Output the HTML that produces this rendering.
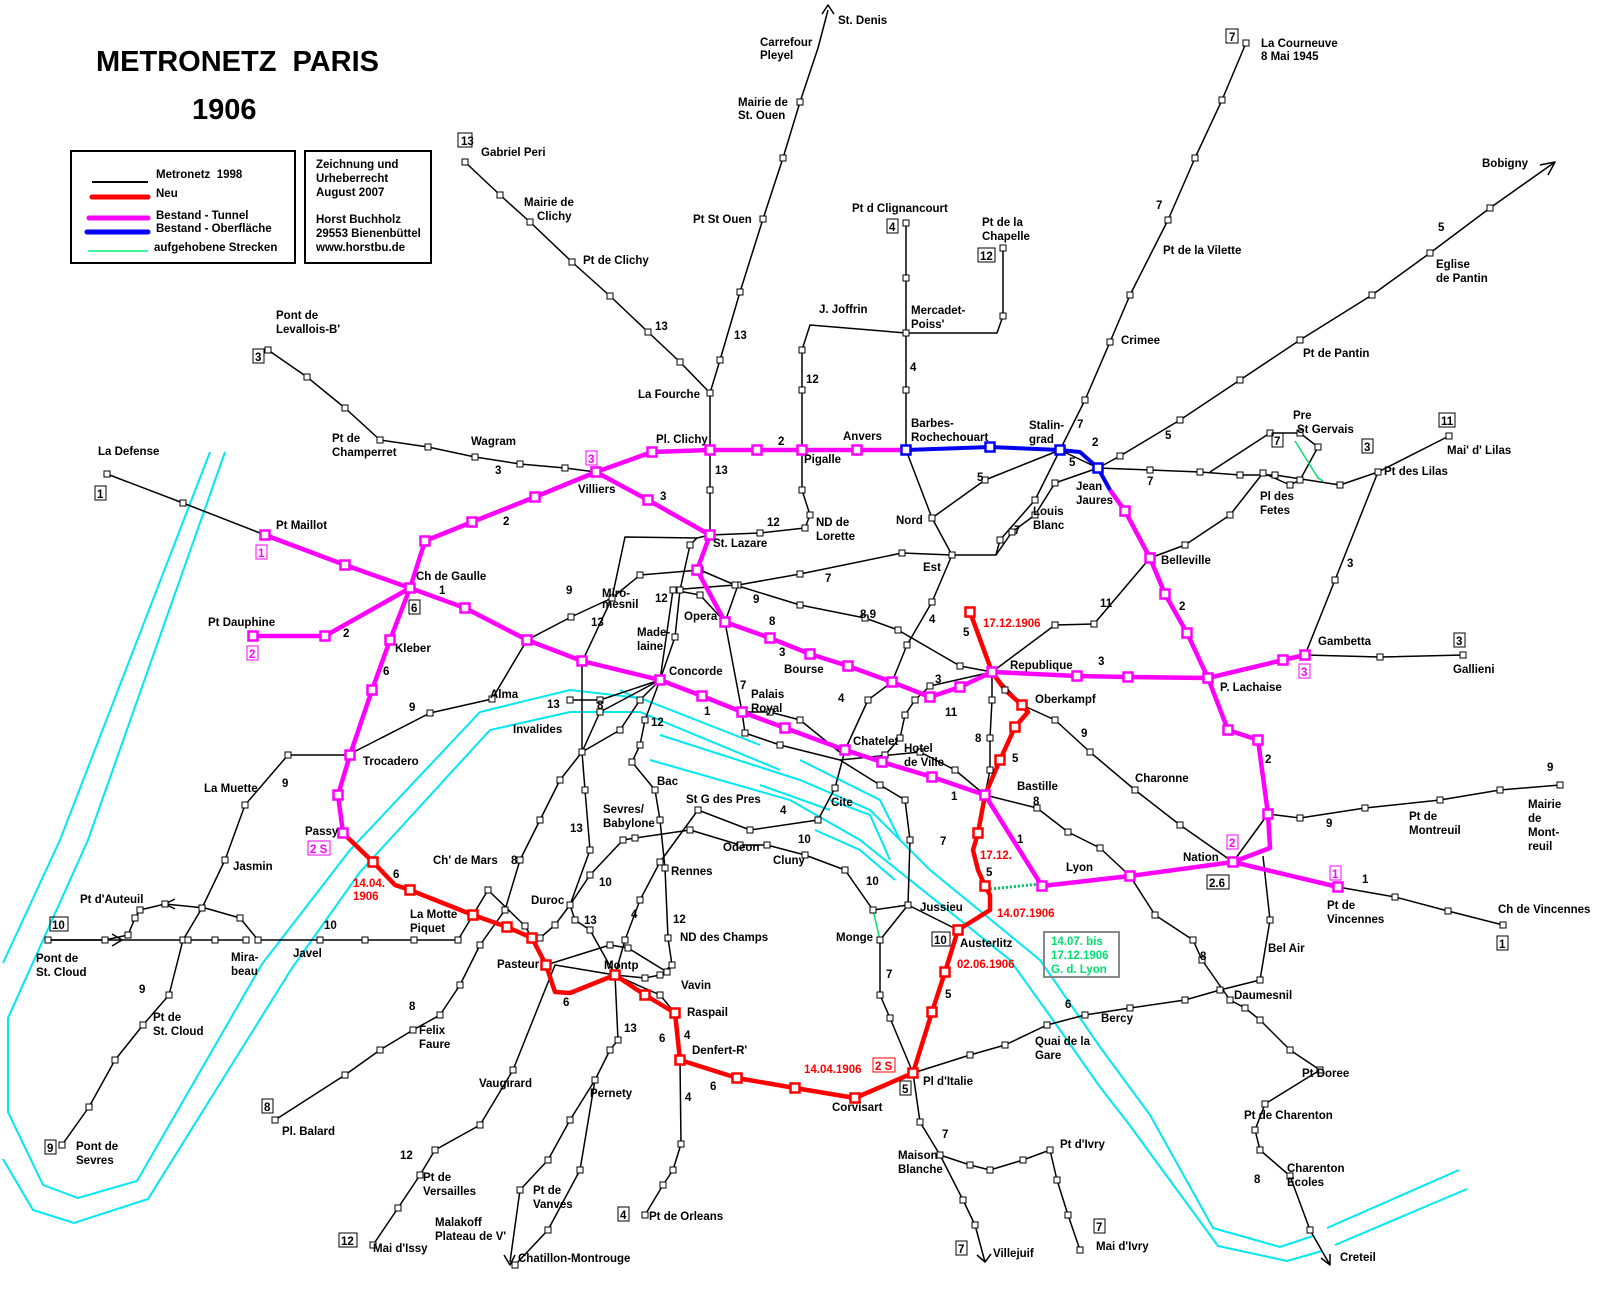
<!DOCTYPE html>
<html><head><meta charset="utf-8"><style>
html,body{margin:0;padding:0;background:#fff;width:1600px;height:1300px;overflow:hidden}
svg{display:block}
text{font-family:"Liberation Sans",sans-serif;font-size:11.5px;font-weight:bold;fill:#000}
.r{fill:#f00}.m{fill:#f0f}.g{fill:#00e070}
.t{font-size:29px;font-weight:bold}
</style></head><body>
<svg id="s" width="1600" height="1300" viewBox="0 0 1600 1300" xmlns="http://www.w3.org/2000/svg">
<g id="river" fill="none" stroke="#00e8f0" stroke-width="2">
<polyline points="210,452 60,840 3,963"/>
<polyline points="225,452 88,840 8,1018 8,1112 43,1185 78,1198 137,1181 262,964 350,850 480,712 570,690 640,698 760,745"/>
<polyline points="3,1159 33,1210 74,1223 148,1199 292,968 360,872 490,730 570,712 640,712 780,770"/>
<polyline points="660,735 800,780 870,810 930,870 1040,960 1100,1047 1150,1115 1213,1228 1280,1247 1313,1236"/>
<polyline points="650,760 790,800 860,840 1010,960 1060,1030 1100,1087 1128,1123 1218,1246 1287,1261 1322,1251"/>
<polyline points="1327,1228 1459,1170"/>
<polyline points="1335,1245 1467,1189"/>
<polyline points="800,760 840,780 880,800 900,840"/>
<polyline points="830,800 870,815 890,860"/>
<polyline points="815,830 860,850 895,880"/>
<polyline points="760,785 830,810"/>
<polyline points="620,690 640,700"/>
</g>
<g id="lines"></g>
<g id="sq"></g>

<text x="96" y="71" class="t">METRONETZ&#160;&#160;PARIS</text>
<text x="192" y="119" class="t">1906</text>
<rect x="71" y="151" width="224" height="112" fill="none" stroke="#000" stroke-width="2"/>
<rect x="305" y="151" width="126" height="112" fill="none" stroke="#000" stroke-width="2"/>
<line x1="92" y1="182" x2="148" y2="182" stroke="#000" stroke-width="2"/>
<line x1="92" y1="197" x2="148" y2="197" stroke="#f00" stroke-width="5" stroke-linecap="round"/>
<line x1="89" y1="218" x2="148" y2="218" stroke="#f0f" stroke-width="5" stroke-linecap="round"/>
<line x1="87" y1="232" x2="148" y2="232" stroke="#00f" stroke-width="5" stroke-linecap="round"/>
<line x1="88" y1="251" x2="148" y2="251" stroke="#00f080" stroke-width="1.5"/>
<text x="156" y="178">Metronetz&#160;&#160;1998</text>
<text x="156" y="197">Neu</text>
<text x="156" y="219">Bestand - Tunnel</text>
<text x="156" y="232">Bestand - Oberfläche</text>
<text x="154" y="251">aufgehobene Strecken</text>
<text x="316" y="168">Zeichnung und</text>
<text x="316" y="182">Urheberrecht</text>
<text x="316" y="196">August 2007</text>
<text x="316" y="223">Horst Buchholz</text>
<text x="316" y="237">29553 Bienenbüttel</text>
<text x="316" y="251">www.horstbu.de</text>

<rect x="1044" y="932" width="75" height="45" fill="none" stroke="#888" stroke-width="2"/>
<text x="1051" y="945" class="g">14.07. bis</text>
<text x="1051" y="959" class="g">17.12.1906</text>
<text x="1051" y="973" class="g">G. d. Lyon</text>

<g fill="none" stroke="#000" stroke-width="1">
<rect x="458" y="133" width="14" height="14"/><rect x="1226" y="29" width="12" height="14"/>
<rect x="253" y="349" width="11" height="14"/><rect x="95" y="486" width="11" height="14"/>
<rect x="887" y="219" width="11" height="14"/><rect x="978" y="248" width="17" height="14"/>
<rect x="1272" y="433" width="11" height="14"/><rect x="1362" y="439" width="11" height="14"/>
<rect x="1439" y="413" width="16" height="14"/><rect x="409" y="600" width="11" height="14"/>
<rect x="1454" y="633" width="11" height="14"/><rect x="1207" y="875" width="22" height="14"/>
<rect x="1497" y="936" width="11" height="14"/><rect x="50" y="917" width="18" height="14"/>
<rect x="932" y="932" width="18" height="14"/><rect x="262" y="1099" width="11" height="14"/>
<rect x="45" y="1140" width="11" height="14"/><rect x="900" y="1081" width="11" height="14"/>
<rect x="618" y="1207" width="11" height="14"/><rect x="339" y="1233" width="18" height="14"/>
<rect x="956" y="1241" width="11" height="14"/><rect x="1094" y="1219" width="11" height="14"/>
</g>
<g fill="none" stroke="#f0f" stroke-width="1">
<rect x="586" y="451" width="11" height="14"/><rect x="256" y="545" width="11" height="14"/>
<rect x="247" y="646" width="11" height="14"/><rect x="1299" y="664" width="11" height="14"/>
<rect x="308" y="841" width="22" height="14"/><rect x="1227" y="835" width="11" height="14"/>
<rect x="1330" y="866" width="11" height="14"/>
</g>
<rect x="873" y="1058" width="22" height="14" fill="none" stroke="#f00"/>
<g>
<text x="461" y="145">13</text><text x="1229" y="41">7</text><text x="255" y="361">3</text><text x="97" y="498">1</text>
<text x="889" y="231">4</text><text x="980" y="260">12</text><text x="1274" y="445">7</text><text x="1364" y="451">3</text>
<text x="1441" y="425">11</text><text x="411" y="612">6</text><text x="1456" y="645">3</text><text x="1209" y="887">2.6</text>
<text x="1499" y="948">1</text><text x="52" y="929">10</text><text x="934" y="944">10</text><text x="264" y="1111">8</text>
<text x="47" y="1152">9</text><text x="902" y="1093">5</text><text x="620" y="1219">4</text><text x="341" y="1245">12</text>
<text x="958" y="1253">7</text><text x="1096" y="1231">7</text>
<text x="588" y="463" class="m">3</text><text x="258" y="557" class="m">1</text><text x="249" y="658" class="m">2</text>
<text x="1301" y="676" class="m">3</text><text x="310" y="853" class="m">2 S</text><text x="1229" y="847" class="m">2</text>
<text x="1332" y="878" class="m">1</text><text x="875" y="1070" class="r">2 S</text>
</g>

<text x="983" y="627" class="r">17.12.1906</text>
<text x="980" y="859" class="r">17.12.</text>
<text x="997" y="917" class="r">14.07.1906</text>
<text x="957" y="968" class="r">02.06.1906</text>
<text x="353" y="887" class="r">14.04.</text>
<text x="353" y="900" class="r">1906</text>
<text x="804" y="1073" class="r">14.04.1906</text>

<g>
<text x="838" y="24">St. Denis</text>
<text x="760" y="46">Carrefour</text><text x="760" y="59">Pleyel</text>
<text x="738" y="106">Mairie de</text><text x="738" y="119">St. Ouen</text>
<text x="1261" y="47">La Courneuve</text><text x="1261" y="60">8 Mai 1945</text>
<text x="1482" y="167">Bobigny</text>
<text x="481" y="156">Gabriel Peri</text>
<text x="524" y="206">Mairie de</text><text x="537" y="220">Clichy</text>
<text x="693" y="223">Pt St Ouen</text>
<text x="852" y="212">Pt d Clignancourt</text>
<text x="982" y="226">Pt de la</text><text x="982" y="240">Chapelle</text>
<text x="1436" y="268">Eglise</text><text x="1436" y="282">de Pantin</text>
<text x="1163" y="254">Pt de la Vilette</text>
<text x="583" y="264">Pt de Clichy</text>
<text x="276" y="319">Pont de</text><text x="276" y="333">Levallois-B'</text>
<text x="819" y="313">J. Joffrin</text>
<text x="911" y="314">Mercadet-</text><text x="911" y="328">Poiss'</text>
<text x="1303" y="357">Pt de Pantin</text>
<text x="1121" y="344">Crimee</text>
<text x="638" y="398">La Fourche</text>
<text x="1293" y="419">Pre</text><text x="1297" y="433">St Gervais</text>
<text x="1447" y="454">Mai' d' Lilas</text>
<text x="332" y="442">Pt de</text><text x="332" y="456">Champerret</text>
<text x="471" y="445">Wagram</text>
<text x="98" y="455">La Defense</text>
<text x="656" y="443">Pl. Clichy</text>
<text x="843" y="440">Anvers</text>
<text x="911" y="427">Barbes-</text><text x="911" y="441">Rochechouart</text>
<text x="1029" y="429">Stalin-</text><text x="1029" y="443">grad</text>
<text x="804" y="463">Pigalle</text>
<text x="578" y="493">Villiers</text>
<text x="1076" y="490">Jean</text><text x="1076" y="504">Jaures</text>
<text x="1033" y="515">Louis</text><text x="1033" y="529">Blanc</text>
<text x="1260" y="500">Pl des</text><text x="1260" y="514">Fetes</text>
<text x="1384" y="475">Pt des Lilas</text>
<text x="276" y="529">Pt Maillot</text>
<text x="816" y="526">ND de</text><text x="816" y="540">Lorette</text>
<text x="896" y="524">Nord</text>
<text x="713" y="547">St. Lazare</text>
<text x="923" y="571">Est</text>
<text x="1161" y="564">Belleville</text>
<text x="416" y="580">Ch de Gaulle</text>
<text x="602" y="597">Miro-</text><text x="602" y="608">mesnil</text>
<text x="208" y="626">Pt Dauphine</text>
<text x="684" y="620">Opera</text>
<text x="637" y="636">Made-</text><text x="637" y="650">laine</text>
<text x="1318" y="645">Gambetta</text>
<text x="395" y="652">Kleber</text>
<text x="1010" y="669">Republique</text>
<text x="669" y="675">Concorde</text>
<text x="784" y="673">Bourse</text>
<text x="1453" y="673">Gallieni</text>
<text x="1220" y="691">P. Lachaise</text>
<text x="490" y="698">Alma</text>
<text x="751" y="698">Palais</text><text x="751" y="712">Royal</text>
<text x="1035" y="703">Oberkampf</text>
<text x="513" y="733">Invalides</text>
<text x="853" y="745">Chatelet</text>
<text x="904" y="752">Hotel</text><text x="904" y="766">de Ville</text>
<text x="363" y="765">Trocadero</text>
<text x="1135" y="782">Charonne</text>
<text x="657" y="785">Bac</text>
<text x="204" y="792">La Muette</text>
<text x="1017" y="790">Bastille</text>
<text x="686" y="803">St G des Pres</text>
<text x="831" y="806">Cite</text>
<text x="1528" y="808">Mairie</text><text x="1528" y="822">de</text><text x="1528" y="836">Mont-</text><text x="1528" y="850">reuil</text>
<text x="1409" y="820">Pt de</text><text x="1409" y="834">Montreuil</text>
<text x="603" y="813">Sevres/</text><text x="603" y="827">Babylone</text>
<text x="305" y="835">Passy</text>
<text x="723" y="851">Odeon</text>
<text x="773" y="864">Cluny</text>
<text x="433" y="864">Ch' de Mars</text>
<text x="1183" y="861">Nation</text>
<text x="1066" y="871">Lyon</text>
<text x="233" y="870">Jasmin</text>
<text x="671" y="875">Rennes</text>
<text x="80" y="903">Pt d'Auteuil</text>
<text x="531" y="904">Duroc</text>
<text x="1327" y="909">Pt de</text><text x="1327" y="923">Vincennes</text>
<text x="1498" y="913">Ch de Vincennes</text>
<text x="920" y="911">Jussieu</text>
<text x="410" y="918">La Motte</text><text x="410" y="932">Piquet</text>
<text x="680" y="941">ND des Champs</text>
<text x="836" y="941">Monge</text>
<text x="960" y="947">Austerlitz</text>
<text x="1268" y="952">Bel Air</text>
<text x="36" y="962">Pont de</text><text x="36" y="976">St. Cloud</text>
<text x="231" y="961">Mira-</text><text x="231" y="975">beau</text>
<text x="293" y="957">Javel</text>
<text x="497" y="968">Pasteur</text>
<text x="604" y="969">Montp</text>
<text x="681" y="989">Vavin</text>
<text x="1234" y="999">Daumesnil</text>
<text x="1101" y="1022">Bercy</text>
<text x="153" y="1021">Pt de</text><text x="153" y="1035">St. Cloud</text>
<text x="687" y="1016">Raspail</text>
<text x="419" y="1034">Felix</text><text x="419" y="1048">Faure</text>
<text x="1035" y="1045">Quai de la</text><text x="1035" y="1059">Gare</text>
<text x="692" y="1054">Denfert-R'</text>
<text x="1302" y="1077">Pt Doree</text>
<text x="923" y="1085">Pl d'Italie</text>
<text x="479" y="1087">Vaugirard</text>
<text x="590" y="1097">Pernety</text>
<text x="832" y="1111">Corvisart</text>
<text x="1244" y="1119">Pt de Charenton</text>
<text x="282" y="1135">Pl. Balard</text>
<text x="1060" y="1148">Pt d'Ivry</text>
<text x="76" y="1150">Pont de</text><text x="76" y="1164">Sevres</text>
<text x="898" y="1159">Maison</text><text x="898" y="1173">Blanche</text>
<text x="1287" y="1172">Charenton</text><text x="1287" y="1186">Ecoles</text>
<text x="423" y="1181">Pt de</text><text x="423" y="1195">Versailles</text>
<text x="533" y="1194">Pt de</text><text x="533" y="1208">Vanves</text>
<text x="435" y="1226">Malakoff</text><text x="435" y="1240">Plateau de V'</text>
<text x="649" y="1220">Pt de Orleans</text>
<text x="1096" y="1250">Mai d'Ivry</text>
<text x="373" y="1252">Mai d'Issy</text>
<text x="993" y="1257">Villejuif</text>
<text x="518" y="1262">Chatillon-Montrouge</text>
<text x="1340" y="1261">Creteil</text>
</g>
<g>
<text x="734" y="339">13</text><text x="655" y="330">13</text><text x="806" y="383">12</text><text x="910" y="371">4</text>
<text x="1156" y="209">7</text><text x="1438" y="231">5</text><text x="1165" y="439">5</text><text x="1077" y="428">7</text>
<text x="1092" y="446">2</text><text x="977" y="481">5</text><text x="1069" y="466">5</text><text x="1147" y="485">7</text>
<text x="1014" y="534">7</text><text x="1347" y="567">3</text><text x="1179" y="610">2</text><text x="1100" y="607">11</text>
<text x="495" y="474">3</text><text x="778" y="445">2</text><text x="715" y="474">13</text><text x="660" y="500">3</text>
<text x="503" y="525">2</text><text x="767" y="526">12</text><text x="439" y="594">1</text><text x="343" y="637">2</text>
<text x="566" y="594">9</text><text x="655" y="602">12</text><text x="825" y="582">7</text><text x="753" y="603">9</text>
<text x="860" y="618">8.9</text><text x="769" y="625">8</text><text x="591" y="626">13</text><text x="929" y="623">4</text>
<text x="963" y="636">5</text><text x="1098" y="665">3</text><text x="779" y="656">3</text><text x="935" y="683">3</text>
<text x="945" y="716">11</text><text x="383" y="675">6</text><text x="547" y="708">13</text><text x="597" y="709">8</text>
<text x="651" y="726">12</text><text x="704" y="715">1</text><text x="740" y="689">7</text><text x="838" y="702">4</text>
<text x="409" y="711">9</text><text x="975" y="742">8</text><text x="1012" y="762">5</text><text x="1081" y="737">9</text>
<text x="1265" y="763">2</text><text x="282" y="787">9</text><text x="951" y="800">1</text><text x="1033" y="805">8</text>
<text x="1547" y="771">9</text><text x="1326" y="827">9</text><text x="1017" y="843">1</text><text x="780" y="814">4</text>
<text x="798" y="843">10</text><text x="940" y="845">7</text><text x="570" y="832">13</text><text x="511" y="864">8</text>
<text x="393" y="878">6</text><text x="986" y="876">5</text><text x="1362" y="883">1</text><text x="599" y="886">10</text>
<text x="866" y="885">10</text><text x="631" y="918">4</text><text x="584" y="924">13</text><text x="673" y="923">12</text>
<text x="324" y="929">10</text><text x="886" y="978">7</text><text x="1200" y="960">8</text><text x="945" y="998">5</text>
<text x="1065" y="1008">6</text><text x="139" y="993">9</text><text x="563" y="1006">6</text><text x="409" y="1010">8</text>
<text x="624" y="1032">13</text><text x="684" y="1039">4</text><text x="659" y="1042">6</text><text x="710" y="1090">6</text>
<text x="685" y="1101">4</text><text x="942" y="1138">7</text><text x="400" y="1159">12</text><text x="1254" y="1183">8</text>
</g>
</svg>
<script>
var NS="http://www.w3.org/2000/svg",L=document.getElementById("lines"),Q=document.getElementById("sq");
function pl(pts,col,w,sq,sz,sw){var p=document.createElementNS(NS,"polyline");
p.setAttribute("points",pts.map(function(a){return a[0]+","+a[1]}).join(" "));
p.setAttribute("fill","none");p.setAttribute("stroke",col);p.setAttribute("stroke-width",w);p.setAttribute("stroke-linejoin","round");L.appendChild(p);
if(sq){pts.forEach(function(a){if(a.length>2)return;var r=document.createElementNS(NS,"rect");
r.setAttribute("x",a[0]-sz/2);r.setAttribute("y",a[1]-sz/2);r.setAttribute("width",sz);r.setAttribute("height",sz);
r.setAttribute("fill","#fff");r.setAttribute("stroke",sq);r.setAttribute("stroke-width",sw||1);Q.appendChild(r);});}}
var B="#000";
var black=[
[[828,10,0],[818,48,0],[800,102],[783,158],[763,219],[740,292],[720,360],[710,393],[710,450,0],[710,490],[710,535,0]],
[[465,162],[500,195],[530,222],[572,262],[610,296],[648,332],[680,362],[710,393,0]],
[[268,350],[307,377],[345,408],[380,440],[428,447],[475,457],[520,464],[565,468],[596,472,0]],
[[107,474],[183,503],[265,535,0]],
[[906,223],[906,278],[906,333],[906,390],[906,450,0],[932,518],[952,555],[932,602],[907,645],[892,682,0],[868,700],[845,750,0],[835,788],[818,820],[750,830],[698,810],[660,862],[640,900],[625,940],[615,975,0],[660,995],[675,1013,0],[680,1060,0],[681,1144],[673,1170],[663,1185],[645,1215]],
[[1003,248],[1003,316],[997,333,0],[906,333,0]],
[[906,333,0],[810,325,0],[802,350],[802,390],[802,450,0],[802,490],[810,515],[805,528],[760,533],[710,535,0],[697,538,0],[690,545],[680,590],[675,637],[660,680,0],[645,720],[640,745],[632,762],[655,790],[660,820],[665,868],[668,938],[672,965],[660,975],[645,978],[615,975,0],[555,965,0],[513,1070],[480,1125],[435,1150],[420,1175],[398,1208],[373,1245]],
[[1246,43],[1222,100],[1195,158],[1168,220],[1130,295],[1110,342],[1085,400],[1060,450,0],[1035,500],[1000,540],[996,555,0],[952,555,0],[902,553],[800,574],[738,585],[725,622,0],[742,712,0],[745,733],[780,745],[840,760,0],[880,785],[905,800],[910,840],[908,905],[880,940],[880,995],[890,1018],[913,1073,0],[920,1122],[940,1155],[963,1200],[975,1225],[985,1262,0]],
[[940,1155,0],[970,1165],[990,1170],[1023,1160],[1050,1150],[1057,1180],[1068,1215],[1080,1250]],
[[1555,162,0],[1490,208],[1430,253],[1372,295],[1300,340],[1240,380],[1180,420],[1120,456],[1098,468,0]],
[[1098,468,0],[1060,450,0],[985,480],[932,518,0]],
[[1098,468,0],[1150,470],[1200,472],[1240,475],[1275,475],[1340,485],[1378,472]],
[[1098,468,0],[1055,483],[1035,515],[1012,532],[996,555,0]],
[[1449,436],[1378,472],[1335,580],[1305,655,0]],
[[1305,655,0],[1380,657],[1463,655]],
[[1338,887,0],[1395,897],[1448,911],[1503,925]],
[[1210,472,0],[1270,433],[1300,433],[1318,447]],
[[1318,447,0],[1300,480],[1290,485],[1263,473],[1230,515],[1185,545],[1150,558,0],[1094,624],[1055,625],[992,672,0]],
[[992,672,0],[930,686],[915,700],[905,715],[900,738],[885,755],[882,762,0]],
[[1560,785],[1500,790],[1440,800],[1365,808],[1300,818],[1268,814,0],[1233,862,0],[1180,825],[1135,790],[1090,752],[1055,720],[1022,705,0],[992,672,0],[960,666],[898,630],[865,618],[800,605],[735,585],[700,570],[640,575],[612,598],[571,617],[527,640,0],[492,699],[430,713],[348,755,0],[288,755],[245,805],[225,860],[202,908],[183,940],[169,995],[143,1025],[115,1060],[89,1107],[62,1145]],
[[1330,1265,0],[1310,1230],[1290,1176],[1260,1150],[1255,1130],[1265,1104],[1320,1070],[1290,1050],[1260,1020],[1245,1008],[1230,1000],[1202,960],[1193,940],[1155,915],[1130,876,0],[1100,848],[1068,832],[1037,808],[985,795,0],[955,770],[920,752],[840,760,0]],
[[985,795,0],[990,770],[990,738],[992,700],[992,672,0]],
[[842,754,0],[800,720],[770,712],[742,712,0]],
[[725,622,0],[700,595],[673,590],[660,680,0]],
[[660,680,0],[640,700],[620,730],[582,752],[560,780],[540,820],[520,860],[505,910],[480,945],[460,985],[440,1015],[413,1030],[380,1050],[345,1075],[275,1120]],
[[1022,705,0],[1005,690],[992,672,0]],
[[660,680,0],[600,712],[582,752,0],[585,790],[590,850],[570,905],[575,920],[590,930],[615,975,0],[618,1040],[610,1050],[595,1080],[570,1120],[548,1160],[520,1190],[510,1262,0]],
[[582,752],[582,662],[612,598,0],[625,537,0],[697,538,0]],
[[670,590,0],[735,585,0]],
[[660,680,0],[600,700],[570,700]],
[[48,940],[105,940],[128,935],[135,918],[140,910],[165,904],[205,908,0],[240,918],[258,940],[320,940],[365,940],[414,940],[458,940],[473,915,0]],
[[48,940,0],[188,940],[215,940],[246,940]],
[[473,915,0],[488,890],[525,926],[532,938,0],[540,938],[555,925],[570,905],[590,875],[623,840],[635,838],[690,830],[740,845],[767,845],[805,855],[845,870],[873,910],[908,905,0],[958,930,0]],
[[546,965,0],[610,945],[628,948],[667,972]],
[[913,1073,0],[970,1055],[1005,1045],[1047,1025],[1085,1015],[1130,1008],[1185,1000],[1220,990],[1260,980],[1270,920],[1263,856,0]],
[[595,1080,0],[580,1170],[548,1230],[515,1265]]
];
black.forEach(function(l){pl(l,B,1.5,B,6,1);});
pl([[822,14,0],[828,5,0],[834,14,0]],B,1.5);
pl([[1540,165,0],[1555,162,0],[1548,175,0]],B,1.5);
pl([[175,899,0],[165,904,0],[175,909,0]],B,1.5);
pl([[112,934,0],[122,940,0],[112,946,0]],B,1.5);
pl([[977,1255,0],[985,1262,0],[991,1254,0]],B,1.5);
pl([[1321,1258,0],[1330,1265,0],[1330,1254,0]],B,1.5);
pl([[504,1255,0],[510,1265,0],[515,1255,0]],B,1.5);
pl([[906,450],[990,447],[1060,450],[1080,452,0],[1098,468],[1110,490,0]],"#0000f0",4,"#0000f0",9,2.5);
var M="#f0f";
pl([[265,535],[345,565],[410,588],[465,608],[527,640],[582,661],[660,680],[702,696],[742,712],[785,728],[845,750],[882,762],[932,777],[985,795],[1042,886],[1130,876],[1233,862],[1338,887]],M,4.5,M,9,2.5);
pl([[253,636],[325,636],[410,588,0],[425,541],[472,522],[535,497],[596,472],[652,452],[710,450],[757,450],[802,450],[857,450],[906,450,0]],M,4.5,M,9,2.5);
pl([[1110,490,0],[1125,511],[1150,558],[1165,594],[1187,633],[1208,678],[1228,730],[1258,740],[1268,814],[1270,848,0],[1233,862,0]],M,4.5,M,9,2.5);
pl([[596,472,0],[648,500],[710,535],[697,570],[725,622],[770,638],[810,654],[848,666],[892,682],[930,697],[960,687],[992,672],[1077,676],[1128,677],[1208,678,0],[1283,660],[1305,655]],M,4.5,M,9,2.5);
pl([[410,588,0],[390,640],[372,690],[350,755],[338,795],[343,833]],M,4.5,M,9,2.5);
var R="#f00";
pl([[343,833,0],[373,862],[395,885,0],[410,890],[473,915],[507,927],[532,938],[546,965],[555,992,0],[570,993,0],[615,975],[645,995],[675,1013],[680,1060],[737,1078],[795,1088],[855,1098],[913,1073],[932,1012],[945,972],[958,930],[990,910,0],[990,895,0],[985,886],[978,870,0],[973,850,0],[978,833],[985,795,0],[1000,760],[1015,727],[1028,712,0],[1022,705],[1005,690,0],[992,672,0]],R,4.5,R,9,2.5);
pl([[970,612],[992,672,0]],R,4.5,R,9,2.5);
pl([[1295,441,0],[1318,478,0],[1323,481,0]],"#00e070",1.5);
pl([[873,910,0],[880,940,0]],"#00e070",1.5);
var gl=document.createElementNS(NS,"line");gl.setAttribute("x1",990);gl.setAttribute("y1",889);gl.setAttribute("x2",1040);gl.setAttribute("y2",884);gl.setAttribute("stroke","#00c060");gl.setAttribute("stroke-width",3);gl.setAttribute("stroke-dasharray","2 2");L.appendChild(gl);
</script>
</body></html>
